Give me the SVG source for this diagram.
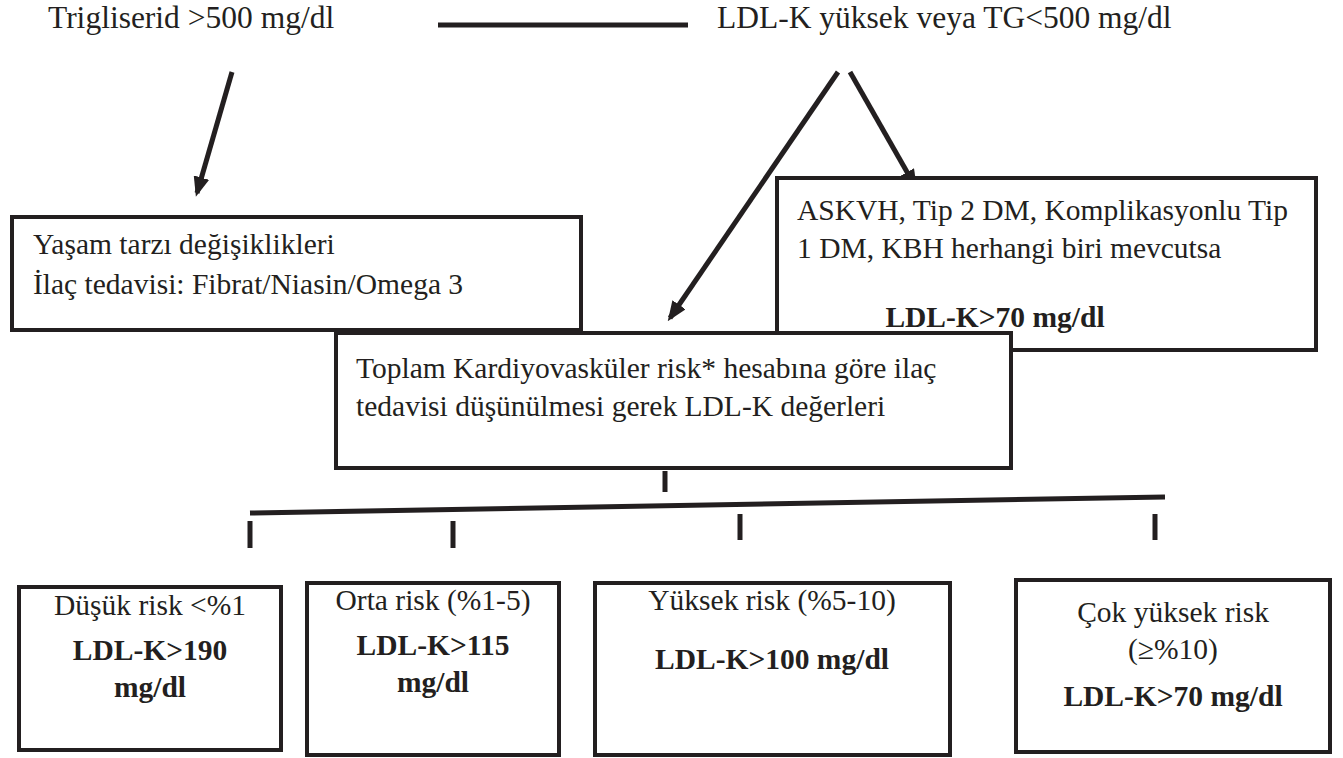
<svg xmlns="http://www.w3.org/2000/svg" width="1343" height="758" viewBox="0 0 1343 758">
  <style>
    .box { fill: #ffffff; stroke: #231f20; stroke-width: 4; }
    .t { font-family: "Liberation Serif", "Times New Roman", "DejaVu Serif", serif; font-size: 29.5px; fill: #231f20; }
    .top { font-size: 31.5px; }
    .b { font-weight: bold; }
    .c { text-anchor: middle; }
    .ln { stroke: #231f20; stroke-width: 5; fill: none; }
    .arw { stroke: #231f20; stroke-width: 5; fill: none; marker-end: url(#head); }
  </style>
  <defs>
    <marker id="head" viewBox="0 0 20 16" refX="16" refY="8" markerWidth="20" markerHeight="16" orient="auto" markerUnits="userSpaceOnUse">
      <path d="M0,0 L20,8 L0,16 z" fill="#231f20"/>
    </marker>
  </defs>
  <rect width="1343" height="758" fill="#ffffff"/>

  <g id="connectors">
    <line class="ln" x1="438" y1="25" x2="688" y2="25"/>
    <line class="arw" x1="232" y1="72" x2="197" y2="193"/>
    <line class="arw" x1="850" y1="72" x2="915" y2="186"/>
    <line class="arw" x1="838" y1="72" x2="670" y2="318"/>
    <line class="ln" x1="665" y1="471" x2="665" y2="492"/>
    <line class="ln" x1="250" y1="513" x2="1165" y2="497"/>
    <line class="ln" x1="250" y1="521" x2="250" y2="548"/>
    <line class="ln" x1="453" y1="521" x2="453" y2="548"/>
    <line class="ln" x1="740" y1="514" x2="740" y2="540"/>
    <line class="ln" x1="1155" y1="514" x2="1155" y2="540"/>
  </g>

  <g id="trigliserid">
    <text class="t top" x="48" y="28">Trigliserid &gt;500 mg/dl</text>
  </g>
  <g id="ldl-yuksek">
    <text class="t top" x="717" y="28">LDL-K yüksek veya TG&lt;500 mg/dl</text>
  </g>

  <g id="yasam">
    <rect class="box" x="12" y="217" width="569" height="113"/>
    <text class="t" x="33" y="254">Yaşam tarzı değişiklikleri</text>
    <text class="t" x="33" y="294">İlaç tedavisi: Fibrat/Niasin/Omega 3</text>
  </g>

  <g id="askvh">
    <rect class="box" x="777" y="178" width="539" height="172"/>
    <text class="t" x="797" y="220">ASKVH, Tip 2 DM, Komplikasyonlu Tip</text>
    <text class="t" x="797" y="258">1 DM, KBH herhangi biri mevcutsa</text>
    <text class="t b c" x="995" y="327">LDL-K&gt;70 mg/dl</text>
  </g>

  <g id="toplam">
    <rect class="box" x="336" y="333" width="675" height="135"/>
    <text class="t" x="356" y="378">Toplam Kardiyovasküler risk* hesabına göre ilaç</text>
    <text class="t" x="356" y="416">tedavisi düşünülmesi gerek LDL-K değerleri</text>
  </g>

  <g id="dusuk">
    <rect class="box" x="19" y="587" width="262" height="163"/>
    <text class="t c" x="150" y="615">Düşük risk &lt;%1</text>
    <text class="t b c" x="150" y="660">LDL-K&gt;190</text>
    <text class="t b c" x="150" y="697">mg/dl</text>
  </g>

  <g id="orta">
    <rect class="box" x="307" y="583" width="252" height="172"/>
    <text class="t c" x="433" y="610">Orta risk (%1-5)</text>
    <text class="t b c" x="433" y="655">LDL-K&gt;115</text>
    <text class="t b c" x="433" y="692">mg/dl</text>
  </g>

  <g id="yuksek">
    <rect class="box" x="595" y="583" width="355" height="172"/>
    <text class="t c" x="772" y="610">Yüksek risk (%5-10)</text>
    <text class="t b c" x="772" y="669">LDL-K&gt;100 mg/dl</text>
  </g>

  <g id="cok-yuksek">
    <rect class="box" x="1016" y="580" width="314" height="172"/>
    <text class="t c" x="1173" y="622">Çok yüksek risk</text>
    <text class="t c" x="1173" y="659">(≥%10)</text>
    <text class="t b c" x="1173" y="706">LDL-K&gt;70 mg/dl</text>
  </g>
</svg>
